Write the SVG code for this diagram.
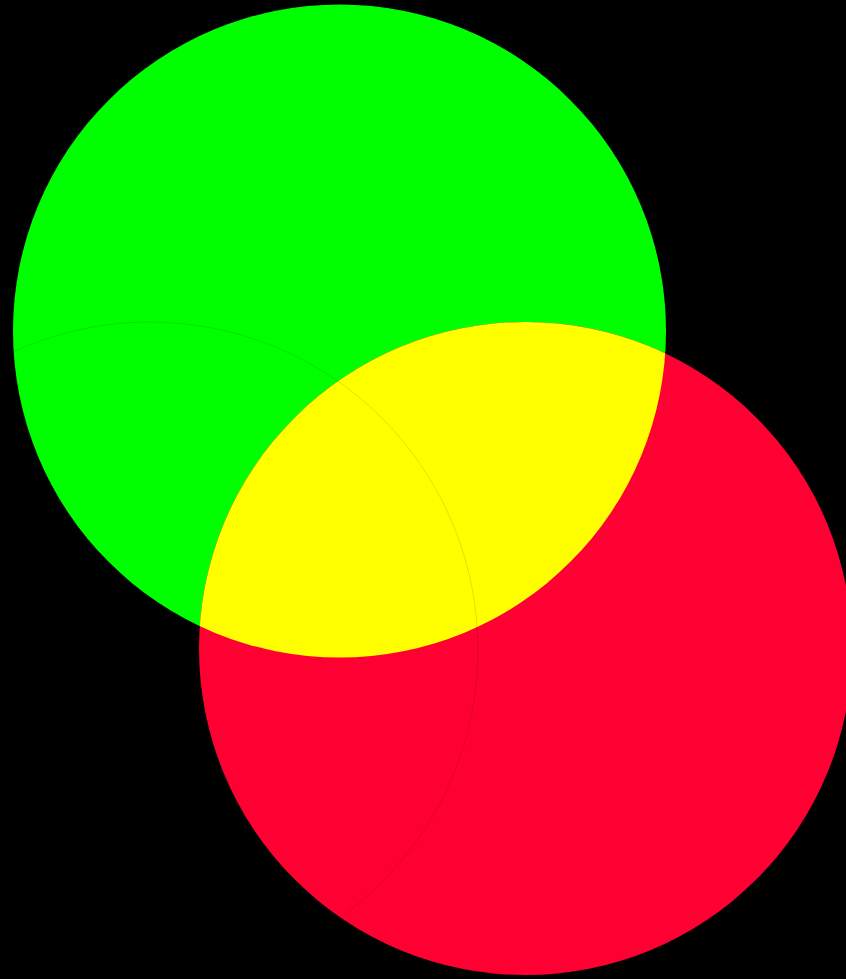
<svg xmlns="http://www.w3.org/2000/svg" width="846" height="979" viewBox="0 0 846 979">
<defs>
<clipPath id="clipGreen"><circle cx="339.5" cy="331" r="326.5"/></clipPath>
</defs>
<rect width="846" height="979" fill="#000"/>
<g id="green"><circle cx="339.5" cy="331" r="326.5" fill="#00ff00"/></g>
<g id="red"><circle cx="525.5" cy="648.5" r="326.5" fill="#ff0033"/></g>
<g id="overlap"><circle cx="525.5" cy="648.5" r="326.5" fill="#ffff00" clip-path="url(#clipGreen)"/></g>
<g id="blue"><circle cx="150" cy="650" r="328" fill="none" stroke="#000" stroke-opacity="0.12" stroke-width="1"/></g>
</svg>
